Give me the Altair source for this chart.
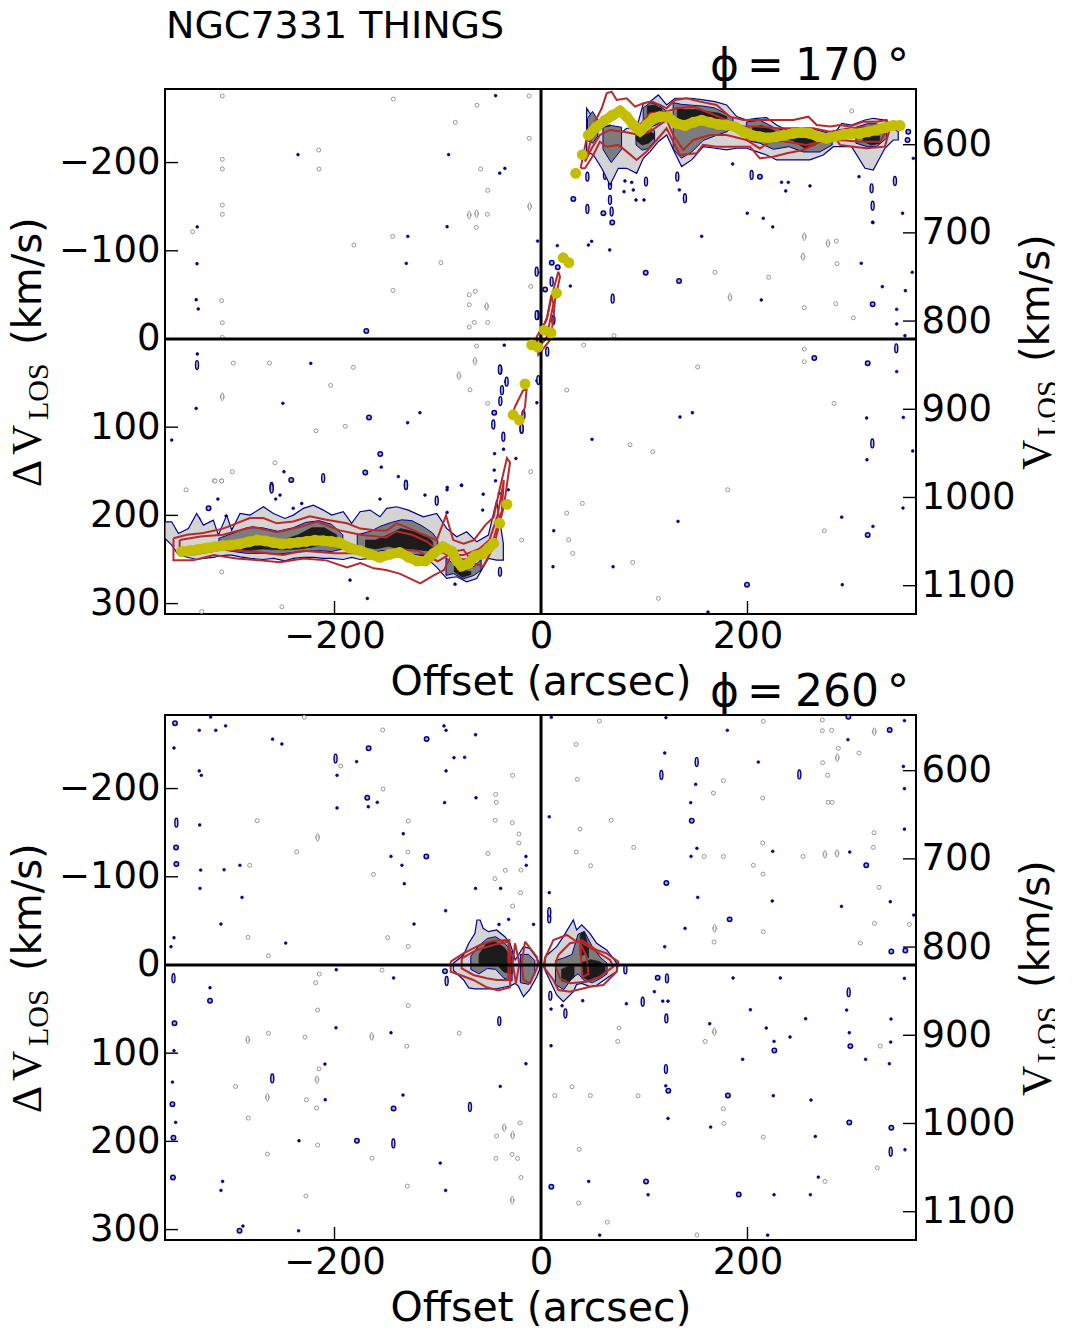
import altair as alt
import pandas as pd

XD = [-364.2, 363.2]
YD = [311.8, -283.4]
VD = [1132.1, 536.9]
X_TICKS = [-200, 0, 200]
Y_TICKS = [-200, -100, 0, 100, 200, 300]
V_TICKS = [600, 700, 800, 900, 1000, 1100]
TITLE = "NGC7331 THINGS"
PHI_A = "170"
PHI_B = "260"

# ---- measured ridge (yellow points), panel 1
ridge_x = [-348,-340,-332,-324,-316,-308,-300,-292,-283,-275,-267,-259,-251,-243,-235,-227,-219,-211,-203,-195,-185,-175,-166,-156,-146,-137,-128,-120,-112,-104,-95,-86,-82,-77,-70,-64,-57,-51,-46,-40,-33,-27,-21,-15.5,-9,-3,3,9.7,15,21.5,27,33.6,40,45.8,54,62,70,76.5,83,89.4,95.9,102.3,108.8,115,123,131,139.4,147.5,155.6,163.7,171.7,179.8,187.9,196,204,212,220,228,236,244,252.4,260.5,268.6,276.6,284.7,292.8,300.8,309,317,325,333,341,347.7]
ridge_y = [241,240,238.5,237,235.5,234.4,233.6,232.5,230,228,229,231,232.5,231.7,230.6,229.5,228.3,228.7,229.5,231,237,240,244,247.6,244,242,247.6,251.8,251.8,243,235.5,241,250.6,257.4,254.4,246,243.8,237.4,231.7,209,187.5,86,92,51,6.8,9.3,-10,-7,-52,-92,-86.5,-187.8,-209,-231,-240.7,-248,-254,-258.5,-252,-242.6,-235.8,-242.6,-250,-252,-252,-244.5,-242,-245.7,-248,-245.7,-243.4,-242.6,-240.7,-235,-231,-229.4,-228,-229.4,-231,-233,-234,-233,-229.4,-227.5,-229.4,-232,-233,-233,-235,-237,-239.6,-242,-242]

# ---- bands: x, upper edge, lower edge
wl_x = [-364.2,-357.7,-351.2,-341.6,-333.5,-327,-317.4,-312.5,-304.4,-299.6,-291.5,-281.8,-268.9,-259.2,-248,-239.9,-230.2,-220.5,-210.8,-202.8,-191.5,-183.4,-175.3,-165.6,-156,-149.5,-139.8,-128.5,-114,-101,-91.4,-81.7,-72,-62.3,-51,-43,-36.5]
wl_t = [207.3,207.3,220.5,214.8,197.8,211,205.4,222.4,199.7,216.7,197.8,199.7,190.2,197.8,203.5,199.7,192,188.4,194,199.7,195.9,209,195.9,194,201.6,192,190.2,194,201.6,197.8,214.8,224.3,218.6,230,222.4,182.7,231.8]
wl_b = [226,233.7,245,247.7,250,248.8,247.7,246.2,245,245,247,248.8,250,248.8,251.5,248.8,247.7,247.7,248.8,248.8,250,247.7,250,248.8,250,247.7,245,248.8,245,259,271.5,269.6,275.3,271.5,248.8,250.7,250.7]
wr_x = [44.2,50.7,58.8,66.8,74.9,83,92.6,99.1,105.6,113.6,121.7,129.8,136.2,145.9,157.2,168.5,179.8,189.5,199.2,208.9,218.5,228.2,237.9,247.6,260.5,273.4,283.1,291.2,300.8,313.8,321.8,333.1,341.2,346]
wr_t = [-261.5,-250.2,-238.9,-242.6,-231.3,-238.9,-238.9,-267.2,-269.1,-276.7,-265.3,-272.9,-272.9,-272.9,-271,-269.1,-265.3,-252.1,-248.3,-250.2,-251,-242.6,-237,-235,-238.9,-235,-231.3,-244.5,-242.6,-248.3,-250.2,-248.3,-238.9,-235]
wr_b = [-212.4,-208.6,-193.5,-174.6,-193.5,-193.5,-187.8,-204.8,-212.4,-223.7,-231.3,-210.5,-195.4,-203,-218,-216.2,-214.3,-216.2,-216.2,-212.4,-208.6,-203,-203,-203,-203,-208.6,-218,-218,-218,-193.5,-191.6,-216.2,-225.6,-225.6]

mid_p1 = [
 ([-312,-298,-285,-270,-255,-240,-228,-215,-203,-192],[226,220,214,214,218,214,208,206,210,222],[238,241,243,243,244,242,241,240,241,238]),
 ([-178,-165,-155,-145,-135,-125,-115,-105,-100],[222,218,212,208,205,206,212,220,228],[240,243,240,240,240,244,245,245,240]),
 ([-92,-85,-75,-65,-58],[248,255,255,258,250],[268,266,272,268,262]),
 ([99,106,114,122],[-262,-268,-265,-258],[-236,-240,-244,-252]),
 ([128,136,146,157,168,180,186],[-268,-266,-265,-264,-262,-255,-250],[-215,-205,-212,-225,-230,-235,-240]),
 ([199,212,225,240,254,270,282],[-246,-248,-240,-235,-236,-232,-228],[-225,-222,-215,-218,-212,-212,-220]),
 ([305,316,325,335],[-240,-244,-244,-238],[-222,-218,-218,-228]),
 ([45,50,55],[-250,-258,-248],[-225,-222,-230]),
 ([60,68,78],[-240,-242,-240],[-215,-200,-215]),
 ([92,98,104,110],[-240,-242,-240,-236],[-220,-214,-216,-224]),
]
dark_p1 = [
 ([-300,-285,-270,-250,-235,-222,-210,-198],[232,226,226,228,222,214,214,222],[238,240,238,239,238,236,232,230]),
 ([-170,-160,-148,-136,-125,-112,-105],[228,228,222,215,218,222,230],[236,238,235,238,238,240,240]),
 ([-84,-76,-68],[258,262,264],[264,270,267]),
 ([103,110,117],[-264,-265,-261],[-250,-252,-256]),
 ([92,98,104,110],[-236,-238,-236,-232],[-225,-220,-222,-228]),
 ([132,140,150,160,172,180],[-262,-260,-260,-258,-256,-252],[-250,-246,-250,-248,-248,-246]),
 ([205,214,226,244,256,266],[-240,-242,-236,-232,-230,-228],[-232,-230,-230,-225,-216,-220]),
 ([312,320,328],[-232,-230,-230],[-224,-220,-222]),
]
blob_l_x = [-85,-75,-70,-64,-62,-59,-56,-51,-43,-35,-30,-25,-22,-17,-11,-4,-1]
blob_l_t = [-1.9,-11.3,-24.6,-35.9,-51,-51,-41.6,-37.8,-39.7,-32.1,-24.6,-5.7,-11.3,-20.8,-18.9,-7.6,-1.9]
blob_l_b = [6,17,26,27,27,27,27,27,27,25,24,21,24,36,28,13,4]
blob_r_x = [3.9,15.2,21.6,31.3,34.5,39.4,47.4,53.9,63.6,70,73.3]
blob_r_t = [-9.4,-20.8,-32.1,-51,-39.7,-45.4,-35.9,-24.6,-17,-7.6,-1.9]
blob_r_b = [6,34,41.6,30.3,22,20.8,24.6,23,15,10,7.6]
mid_p2 = [
 ([-68,-60,-52,-44,-36,-28],[-10,-22,-30,-32,-26,-14],[5,10,4,5,15,18]),
 ([-20,-12,-6],[-12,-12,-5],[20,22,10]),
 ([14,22,30,36,42,50,58,64],[-5,-8,-12,-35,-38,-20,-8,-2],[22,28,15,10,18,20,15,10]),
]
dark_p2 = [
 ([-60,-52,-44,-36,-28],[-12,-26,-26,-20,-8],[-2,0,-2,8,10]),
 ([20,26,32],[5,2,2],[18,20,14]),
 ([38,42,46],[-35,-38,-20],[-10,-12,-8]),
 ([40,48,56,62],[-3,-6,-4,0],[14,18,14,8]),
]

# ---- red contours (closed outlines)
red_p1 = [
 ([-356,-343,-327,-308,-282,-269,-256,-240,-224,-208,-188,-175,-159,-149,-140,-127,-114,-101,-92,-85,-75,-65,-54,-46,-40,-33,-30,-36,-46,-56,-66,-75,-85,-94,-104,-117,-137,-150,-162,-175,-188,-208,-230,-253,-272,-295,-317,-337,-356,-356],
  [226,222,220,215,203,203,209,207,201,205,209,215,217,217,209,215,222,228,200,228,232,228,211,202,170,135,140,190,236,258,254,239,241,262,268,277,266,262,260,254,259,251,249,253,251,249,245,251,251,226]),
 ([-350,-330,-308,-279,-256,-233,-217,-195,-175,-150,-140,-125,-110,-100,-90,-75,-60,-50,-42,-36,-38,-48,-60,-75,-90,-100,-120,-140,-160,-180,-200,-230,-250,-280,-310,-335,-350,-350],
  [228,224,222,213,219,213,207,217,222,225,218,222,230,240,245,245,238,228,200,160,195,235,248,250,245,252,240,238,244,243,243,240,245,241,239,244,245,228]),
 ([38.4,44.2,49,58.8,63.6,68.4,73.3,83,91,99.1,107.2,115.2,121.7,129.8,141,154,170,183,196,212,228,244.4,259,267,280,289.6,299.2,312,325,334.8,338,333,315.4,302.5,289.6,283,270,254,238,225,212,202.4,189.5,170,157,150.7,134.6,128,121.7,112,102.3,92.6,83,75,63.6,57,50.7,42.6,38.4],
  [-193.5,-227.5,-238.9,-261.5,-278.5,-280.4,-271,-272.9,-263.4,-267.2,-269.1,-265.3,-261.5,-271,-272.9,-269.1,-265.3,-252,-248.3,-248.3,-248.3,-248.3,-252,-242.6,-240.8,-242.6,-240.8,-246.4,-246.4,-248.3,-238.9,-218,-216.2,-218,-220,-231.3,-223.7,-214.3,-210.5,-206.7,-204.8,-218,-218,-218,-220,-210.5,-208.6,-223.7,-238.9,-225.6,-212.4,-203,-212.4,-220,-218,-223.7,-208.6,-193.5,-193.5]),
 ([42.6,50.7,57,66.8,83,95.9,105.6,121.7,131.4,147.5,163.7,179.8,196,212,228,244.4,263.7,280,299.2,325,336.4,336.4,328.3,309,289.6,270,257,238,225,212,199,179.8,163.7,147.5,137.8,128,121.7,105.6,95.9,79.7,66.8,57,49,42.6],
  [-201,-235,-246.4,-257.8,-252,-242.6,-255.9,-257.8,-261.5,-263.4,-255.9,-248.3,-240.8,-240.8,-238.9,-238.9,-238.9,-235,-238.9,-240.8,-244.5,-238.9,-223.7,-223.7,-225.6,-223.7,-220,-223.7,-225.6,-216,-225.6,-231.3,-231.3,-225.6,-214.3,-231.3,-248.3,-235,-231.3,-235,-237,-231.3,-216,-201]),
 ([16.7,10.3,5.4,-4.2,-2.6,8.7,11.9,13.5,18.4,16.7],[-76.3,-48,-21.5,-2.6,18,1.2,-21.5,-44,-70.6,-76.3]),
 ([10,6,0,-2,5,9,12,10],[-50,-25,-8,8,0,-22,-40,-50]),
 ([-17.2,-25.2,-28.5,-20.4,-15.5,-14,-17.2],[57.9,76.8,88,93.8,76.8,57.9,57.9]),
]
red_p2 = [
 ([-87.5,-75.2,-59,-46,-30.7,-29.4,-30,-41.3,-52.6,-65.5,-78.4,-87.5,-87.5],[-3.8,-13.2,-22.7,-27.6,-28.3,-1.9,25.3,29,25.3,17,11.3,7.6,-3.8]),
 ([-76.8,-62.3,-46,-31.6,-31.6,-31.6,-43,-52.6,-65.5,-76.8,-76.8],[-7.6,-17,-22.7,-26.5,-1.9,17,17,15,11.3,3.8,-7.6]),
 ([-25.2,-21,-24.3,-27.4,-25.2],[-24.6,-1.9,20.8,-1.9,-24.6]),
 ([-15.5,-4.2,-2.6,-10.7,-17,-18.7,-15.5],[-26.5,-9.4,0,20.8,17,-1.9,-26.5]),
 ([3.9,12,24.9,34.5,39.4,53.9,63.6,74.9,73.3,60.4,47.4,28,16.8,12,2.3,3.9],[-7.6,-28.3,-34,-26.5,-28.3,-17,-13.2,-3.8,7.6,22.7,24.6,30.3,28.4,17,1.9,-7.6]),
 ([16.8,28,37.8,53.9,66.8,70,57,44.2,28,18.4,13.6,16.8],[-11.3,-24.6,-26.5,-15,-5.7,1.9,13.2,18.9,20.8,15.1,0,-11.3]),
 ([38,44,46,40,38],[-24,-10,10,14,-24]),
]

# ---- isolated blue specks
p1_blue_x = [-44,-235.4,-89.5,-40,-35,-91,-333,-129,-333.2,-130.5,-334,-332,-3.3,-3.3,-35.6,-332.9,-223,-34.3,-4,-4,-250,-334,-117.3,-129.2,-45.3,-357.7,-45,-36.3,-24.3,-249,-154.7,-138.2,-45.3,-77,-90.8,-44,-252.8,-257,-241.5,-240,-231.8,-156,-112.4,-91,-77,-56,-56.5,-91,-305,-313,-31.7,-40.4,-83.3,-185,-168.2,155.6,224.4,321.5,49,45.9,15.8,66.5,310.2,359.6,28.4,213.4,352.9,330.6,344.5,344.5,352.5,344.5,134.6,146.6,315.4,350.9,49.4,315.7,360,12.3,291.2,321.5,11.6,69.8,291.8,132.7,350.6,161.7,81.3,87.8,89.4,80.4,92,99.7,233,239.5,237,260.5,308,350.2,134,199.8,215.3,321.2,185.6,360.6]
p1_blue_y = [-275.8,-209,-209,-188,-193.4,-127.3,-127,-116.3,-85.3,-85.7,-44.5,-34,-111,-75.5,7,17,27.7,48.5,47.4,72.3,73,78.7,83.6,95,83.6,114.6,130,125,135.5,150.5,145.3,156,148.7,166,168.3,160.8,177,181.5,160,192,186.5,181.5,177,171,165.7,176,194,196.7,200.8,181.5,171,175,278,273.4,294.2,-116.4,-127,-132,-110.7,-106.5,-105.8,-100.9,-85.8,-75.6,-60,-44.2,-54.8,-59.3,-33.6,-17,-3.7,37,88.5,83.6,89.6,88.9,113.8,136.9,127,217.4,202,212.5,258.2,258.2,278.6,206.8,191.7,309.6,-179.1,-177.6,-168.9,-167,-157.6,-157.6,-177.6,-177.6,-167.8,-173.5,-184,-142.5,-169,-142.5,-136.8,-132.3,-198.4,-204.8]
p1_ring_x = [-169.2,-166.6,-155.7,-170.2,-241.9,-332.5,-322,69,4,10.4,16.2,101.4,133.7,321.2,264.7,316.4,316.4,199.5,31.3,60.4,212,355,355.7,-45.3]
p1_ring_y = [-9,89,130.5,151.3,160,205,192,-132,-56,-86.5,-81.2,-75.2,-65.7,-39.3,21.6,27.6,222.3,278.6,-158.7,-142.5,-184,-225.6,-235,83.6]
p1_tall_x = [-333.2,-39.4,-39.4,-46.2,-211,-130.8,-261,-260.9,-130.8,-39.7,320.9,344.1,44.9,101.7,132,139.4,320.2,342.8,321.2,44.9,68.4,66.8,66.8,62,204,69.4,-3.3,-101,-37.8,-18.8,-4.2,-4.2,-2.6,-33.3,-39.8,-17,-18.8,-36.5,12,10.3,6]
p1_tall_y = [29.6,35,70.4,97,157.7,165.3,167.6,169.5,165.7,264,118.4,10.6,-184,-178.4,-184,-159.5,-170.8,-179.1,-151,-147.4,-144.4,-174.6,-157.6,-186,-186,-45.7,-27,183.4,58,102,-27,-76.3,46.6,48.4,34.5,86,101.4,110.8,-21.5,-65,14.4]
p1_gray_x = [-308.7,-143,-62,-83,-11.4,-11.4,-215.4,-308.7,-215,-58.5,-308.7,-51.7,-11,-308.7,-308.7,-69.5,-62.4,-52,-62.7,-143.7,-181.2,-337.4,-97,-10,-143.4,-309.3,-69.5,-63.7,-52.7,-69.5,-308.7,-308.7,-69.5,-51.7,-64.6,-62.4,-64,-181.8,-79.5,-68.8,-308.7,-203.8,-51.7,-218,-189.6,-257.7,-299,-316.4,-309.3,-10,-298,-263,-309.3,-251,-328.7,-18.8,-343.8,-315.7,-309.3,255,278,286,253.7,183,168.5,220.5,286.7,255,285.4,302.5,70.7,41.3,151.7,255,255,24.9,283.8,86.2,108.2,180.8,40,24.9,274.4,26.8,30.7,88.8,113.7,300.9]
p1_gray_y = [-275.5,-272,-265,-245.6,-227.5,-275.5,-214.2,-192.7,-192.7,-192.7,-203.6,-168.5,-150.3,-151.8,-141.3,-140.5,-142,-141.3,-126.5,-116.3,-106.5,-121.6,-86.5,-59.6,-55,-43.4,-50,-54,-37,-38.8,-18.4,-1.8,-13.5,-18.8,-18.8,8,25,32.2,41.7,57.6,65.5,52.6,73,104,99,140.3,150.5,160.7,160.7,150.5,27.3,27.3,264,303.6,309,228,171,161,161,-116,-108.4,-111,-93.3,-47.2,-75.6,-69.9,-85.4,-35.5,-40,-24,-3.7,6.9,31.8,25.8,11.4,57.9,73,119.9,127.8,170.9,186.4,197.4,217.4,227.6,243.1,253.3,294.1,-258.5]
p1_gtall_x = [255,-62.4,-69.5,-79.5,183,253.7,-308.7,-64,-11,-52.7,278]
p1_gtall_y = [-116,-142,-140.5,41.7,-47.2,-93.3,65.5,25,-150.3,-37,-108.4]

p2_blue_x = [-320,-331,-315,-305.5,-355.5,-331,-329,-260,-251,-178.6,-197.6,-158.6,-167.3,-197.6,-94,-92,-63.4,-84.3,-74,-92,-93.4,-63,-330.6,-329.7,-307,-291.6,-330.3,-289.6,-310,-355.5,-358.4,-247.3,-133.4,-145.3,-134.7,-132.4,-123,-92.4,-14.6,-14.3,-39.1,-63.4,-40.7,-7.2,-31.4,-198.3,-142.8,-320.6,-198.6,-145.3,-355.5,-209.3,-14.6,-357,-39.5,-133.7,-209,-353.9,-234.4,-97.6,-308.4,-310,-92.4,-234.8,-288.7,10,121,180.5,352,297.3,119.8,150.8,210.5,351,149.8,352,145,8,352,151,224.4,145.3,299,151.8,224,291,338.3,8,139.5,361,119.8,186,231.8,352,298,109.8,117.9,123,82.7,202.8,296,256.3,339,218.2,163.4,241.2,298.6,338.7,225.7,9.7,195.3,314.4,337.4,120.8,225,261.5,123,164.3,265.7,352.5,46.2,268.6,103.7,225.7,260.9,56.8,219.5,9.7,20.4,40.4]
p2_blue_y = [-281,-266,-266,-271,-246,-220,-215,-256,-250.5,-230.5,-215,-184.4,-179.4,-178,-271,-266,-261,-235,-235.4,-220,-184,-189.6,-158.7,-107.6,-108,-113,-86.8,-76.6,-46.4,-30.9,-20.7,-24.8,-148.8,-123.1,-113,-92.1,-46.4,-61.5,-123,-113,-86.8,-86.8,-46,-46,-51.7,5.4,14.8,25.8,71.2,76.8,97.2,112.4,112,132.8,137.7,147.5,152.8,178.5,199.3,224.6,245.4,255.6,255.6,301.4,296,-280.8,-280.4,-266,-277,-255.4,-240.3,-230,-230,-225,-204.8,-199.9,-184,-168,-154,-132.2,-128.8,-123.1,-128,-76.6,-72.5,-66.4,-71.7,-82,-41.5,-56.6,-20.7,14.8,14.8,15.2,31,30.3,41,41,44,50.8,51.1,61,61.3,71.5,66.6,81.7,76.8,87.4,86.7,91.6,107,107,112,137,148.3,153.2,174,183.8,194.4,209.5,245.4,240.5,260.5,260.5,260.5,306.3,306.3,50,46.2,40.5]
p2_ring_x = [-354.5,-167,-168.3,-110.8,-353.5,-353.2,-356,-320.6,-355,-111.1,-142.8,-178.3,-356.5,-292,-357,-93,146,113,315,121.4,182.7,339.3,352.9,299.6,226,181,298.6,339.3,191.5,101.7,10,123.3,297.7,337.7]
p2_ring_y = [-274,-245.6,-189.6,-256.2,-133.3,-114.4,196,40.5,66,-123.1,162.6,199.3,240.9,301.4,158,7,-163.6,14.5,-113,-92.9,-51.7,-15.4,-16.5,92,97,148,178.5,184.6,260.2,245.4,251.5,142.6,-281.5,-266.4]
p2_tall_x = [-199,-353.2,-260.3,-68.8,-143,-40.4,-356,-91.4,150.8,338.7,121.4,122,98.5,8,8,9,23.6,81.7,250.2,298,116.6,121]
p2_tall_y = [-234,-161.3,128.6,161,202.3,63.6,15,18.2,-230,211.8,60.6,15.2,41.7,-52.8,-60,35,55,5,-216,31,-215.4,118]
p2_gray_x = [-229.3,-153.4,-194,-27.5,-44,-43.3,-153,-275,-128.6,-216.4,-27.8,-44.3,-21.4,-21.4,-51.4,-236.7,-128.9,-282.2,-162.4,-34.6,-44.6,-19.4,-19.8,-27.5,-283.8,-148.6,-128.6,-264,-214.7,-218.3,-154,-216.4,-128.6,-284,-264,-228.6,-164,-130,-79.2,-215,-217,-295.8,-265,-227.3,-217.3,-283.5,-35.6,-27.5,-20.4,-43,-216.4,-265,-163.7,-22.7,-28,-43.7,-129.5,-227.7,-27.8,-19.4,56.5,215.3,272.5,272.5,281.5,322.8,288,287,272.8,308,34,35.2,277.6,176.6,167,214.7,278,282,68,37.8,322.5,89.8,34.2,158,176.6,214.7,253.8,275,286.7,321.9,205.7,215,48,327.4,168.2,215.3,323,356.7,309.3,167.6,75.6,167.9,74.3,158.9,328.6,30,94,13.3,47.8,176.6,177,215.3,37,325.7,275,36.5,64.3,151]
p2_gray_y = [-280.8,-266.4,-225.6,-215,-193.4,-184.4,-199.5,-163.6,-163.2,-144.7,-161.3,-164,-148.5,-138.2,-126.5,-128.4,-128,-113,-102.7,-107.3,-97.8,-107.6,-82,-66.8,-31.3,-31,-21,-10.5,10.3,20.1,5.8,51.1,46,84.8,77.6,81.8,81,92,77.2,117.7,130,137.7,150,152.8,162,173.6,184.6,193,179,194,204.2,214.4,219,219.3,214.8,219.3,250.7,262,266.6,240.9,-276.6,-276.2,-277.7,-265.6,-266,-264.5,-245.6,-235,-229.3,-240.3,-250,-210.4,-215,-209,-195,-189.3,-184.4,-184.4,-164,-154,-150,-133.3,-128,-123,-123,-138.2,-123,-125.4,-126.5,-133.3,-113,-103,-112.5,-88,-41.5,-37.7,-47.2,-46,-24.8,-26,71.5,75.7,86.7,86.7,92,138,148.3,148,148,163,179.7,195,209,230,245.4,270,291.5,306]
p2_gtall_x = [-216.4,-284,-265,-35.6,-27.5,-164,-27.8,287,322.8,275,286.7,167.9,168.2,-217]
p2_gtall_y = [-144.7,84.8,150,184.6,193,81,266.6,-235,-264.5,-125.4,-126.5,75.7,-41.5,130]

BLUE = "#00008b"
RED = "#b8292b"
YELLOW = "#c3bf00"
FONT = "DejaVu Sans"
SERIF = "Liberation Serif"
TALL = "M0,-1C0.45,-1 0.45,1 0,1C-0.45,1 -0.45,-1 0,-1Z"
W, H = 751, 525

xs = alt.Scale(domain=XD, nice=False, zero=False)
ys = alt.Scale(domain=YD, nice=False, zero=False)
vs = alt.Scale(domain=VD, nice=False, zero=False)
X = lambda f="x": alt.X(f"{f}:Q", scale=xs, axis=None)
Y = lambda f="y": alt.Y(f"{f}:Q", scale=ys, axis=None)


def band(bx, bt, bb, fill, stroke, sw):
    df = pd.DataFrame({"x": bx, "y": bt, "y2": bb})
    return alt.Chart(df).mark_area(orient="vertical", fill=fill, stroke=stroke, strokeWidth=sw,
                                   clip=True, interpolate="linear").encode(
        x=X(), y=Y(), y2="y2:Q")


def outline(lx, ly, color, sw):
    df = pd.DataFrame({"x": lx, "y": ly, "o": range(len(lx))})
    return alt.Chart(df).mark_line(color=color, strokeWidth=sw, clip=True).encode(
        x=alt.X("x:Q", scale=xs, axis=None, sort=None), y=Y(), order="o:Q")


def specks(px, py, shape, size, fill, stroke, sw):
    df = pd.DataFrame({"x": px, "y": py})
    return alt.Chart(df).mark_point(shape=shape, size=size, filled=True, fill=fill, fillOpacity=1,
                                    stroke=stroke, strokeWidth=sw, clip=True).encode(x=X(), y=Y())


def label(text, x, y, size, font=FONT, angle=0):
    return alt.Chart(pd.DataFrame({"a": [0]})).mark_text(
        text=text, font=font, fontSize=size, angle=angle, align="left", baseline="alphabetic",
        color="black").encode(x=alt.value(x), y=alt.value(y))


def panel(phi, bands, mids, darks, reds, blue, ring, tall, gray, gtall, ridge, title=None):
    layers = []
    layers.append(specks(*gray, "circle", 16, "white", "#8c8c8c", 0.9))
    layers.append(specks(*gtall, TALL, 60, "white", "#8c8c8c", 0.9))
    layers.append(specks(*blue, "circle", 8, BLUE, BLUE, 0.6))
    layers.append(specks(*ring, "circle", 20, "#a8a8d0", BLUE, 1.5))
    layers.append(specks(*tall, TALL, 80, "#c4c4c4", BLUE, 1.4))
    for b in bands:
        layers.append(band(*b, "#d4d4d4", BLUE, 1.2))
    for b in mids:
        layers.append(band(*b, "#7c7c7c", BLUE, 1.0))
    for b in darks:
        layers.append(band(*b, "#1c1c1c", "#1c1c1c", 0.8))
    for r in reds:
        layers.append(outline(*r, RED, 2))
    # zero lines
    layers.append(alt.Chart(pd.DataFrame({"x": [0]})).mark_rule(color="black", strokeWidth=3).encode(x=X()))
    layers.append(alt.Chart(pd.DataFrame({"y": [0]})).mark_rule(color="black", strokeWidth=3).encode(y=Y()))
    if ridge:
        rdf = pd.DataFrame({"x": ridge_x, "y": ridge_y, "o": range(len(ridge_x))})
        for wing in (rdf[rdf.x < -44], rdf[rdf.x > 44]):
            layers.append(alt.Chart(wing).mark_line(color=YELLOW, strokeWidth=10, strokeCap="round", clip=True).encode(
                x=alt.X("x:Q", scale=xs, axis=None, sort=None), y=Y(), order="o:Q"))
        layers.append(alt.Chart(rdf).mark_point(
            shape="circle", size=120, filled=True, color=YELLOW, opacity=1, clip=True).encode(x=X(), y=Y()))
    # left + bottom axes with inward ticks
    layers.append(alt.Chart(pd.DataFrame({"x": X_TICKS})).mark_rule(color="black", strokeWidth=1.4).encode(
        x=alt.X("x:Q", scale=xs, axis=alt.Axis(values=X_TICKS, tickSize=0, domain=False, grid=False,
            labelFont=FONT, labelFontSize=37, labelPadding=4, labelColor="black", format="d",
            title="Offset (arcsec)", titleFont=FONT, titleFontSize=41, titleFontWeight="normal",
            titleColor="black", titlePadding=8)),
        y=alt.value(H - 13), y2=alt.value(H)))
    layers.append(alt.Chart(pd.DataFrame({"y": Y_TICKS})).mark_rule(color="black", strokeWidth=1.4).encode(
        y=alt.Y("y:Q", scale=ys, axis=alt.Axis(values=Y_TICKS, tickSize=0, domain=False, grid=False,
            labelFont=FONT, labelFontSize=37, labelPadding=5, labelColor="black", format="d", title=None)),
        x=alt.value(0), x2=alt.value(13)))
    # text
    layers.append(label("\u0394", -124, 398, 42, SERIF, 270))
    layers.append(label("V", -124, 366, 42, SERIF, 270))
    layers.append(label("LOS", -117, 331, 30, SERIF, 270))
    layers.append(label("(km/s)", -124, 256, 40, FONT, 270))
    layers.append(label("V", 886, 381, 42, SERIF, 270))
    layers.append(label("LOS", 892, 348, 30, SERIF, 270))
    layers.append(label("(km/s)", 884, 273, 40, FONT, 270))
    layers.append(label("\u03d5", 545, -9, 44))
    layers.append(label("=", 582, -9, 44))
    layers.append(label(phi, 630, -9, 44))
    layers.append(label("\u00b0", 722, -9, 44))
    if title:
        layers.append(label(title, 1, -51, 38))
    right = alt.Chart(pd.DataFrame({"v": V_TICKS})).mark_rule(color="black", strokeWidth=1.4).encode(
        y=alt.Y("v:Q", scale=vs, axis=alt.Axis(orient="right", values=V_TICKS, tickSize=0, domain=False,
            grid=False, labelFont=FONT, labelFontSize=37, labelPadding=5, labelColor="black", format="d", title=None)),
        x=alt.value(W - 13), x2=alt.value(W))
    layers.append(right)
    return alt.layer(*layers).resolve_scale(y="independent").resolve_axis(x="independent", y="independent").properties(width=W, height=H)


p1 = panel(PHI_A, [(wl_x, wl_t, wl_b), (wr_x, wr_t, wr_b)], mid_p1, dark_p1, red_p1,
           (p1_blue_x, p1_blue_y), (p1_ring_x, p1_ring_y), (p1_tall_x, p1_tall_y), (p1_gray_x, p1_gray_y),
           (p1_gtall_x, p1_gtall_y), True, TITLE)
p2 = panel(PHI_B, [(blob_l_x, blob_l_t, blob_l_b), (blob_r_x, blob_r_t, blob_r_b)], mid_p2, dark_p2, red_p2,
           (p2_blue_x, p2_blue_y), (p2_ring_x, p2_ring_y), (p2_tall_x, p2_tall_y), (p2_gray_x, p2_gray_y),
           (p2_gtall_x, p2_gtall_y), False)

chart = alt.vconcat(p1, p2, spacing=101, bounds="flush").properties(
    padding={"left": -2, "top": -1, "right": -9, "bottom": -3}).configure_view(
    stroke="black", strokeWidth=2)
chart.save("out.html", embed_options={"renderer": "svg", "actions": False})
